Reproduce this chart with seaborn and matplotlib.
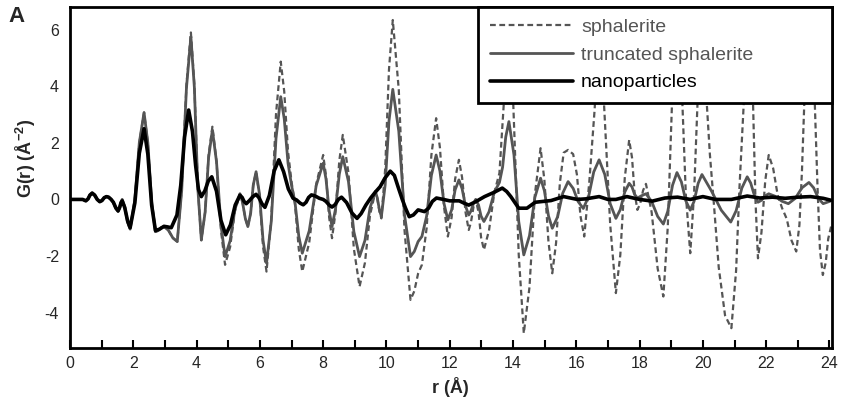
import matplotlib
matplotlib.use("Agg")
import matplotlib.pyplot as plt
import seaborn as sns
import pandas as pd
from matplotlib.ticker import MultipleLocator

# ---------------- data ----------------
sph_r = [0.0, 0.4, 0.5, 0.57, 0.63, 0.7, 0.78, 0.86, 0.94, 1.01, 1.08, 1.15, 1.22, 1.3, 1.37,
         1.45, 1.52, 1.57, 1.61, 1.65, 1.73, 1.82, 1.9, 2.05, 2.19, 2.34, 2.46, 2.58, 2.7,
         2.79, 2.88, 2.97, 3.11, 3.25, 3.39, 3.53, 3.68, 3.82, 3.93, 4.04, 4.15, 4.27, 4.38,
         4.5, 4.63, 4.77, 4.9, 5.06, 5.21, 5.37, 5.45, 5.54, 5.62, 5.71, 5.79, 5.88, 5.99,
         6.1, 6.21, 6.36, 6.51, 6.66, 6.77, 6.89, 7.0, 7.11, 7.23, 7.34, 7.56, 7.78, 8.0,
         8.09, 8.19, 8.28, 8.39, 8.51, 8.62, 8.8, 8.97, 9.15, 9.32, 9.48, 9.65, 9.71, 9.78,
         9.84, 9.96, 10.08, 10.2, 10.39, 10.57, 10.76, 10.88, 11.0, 11.12, 11.27, 11.42,
         11.57, 11.69, 11.82, 11.94, 12.06, 12.17, 12.29, 12.39, 12.5, 12.6, 12.67, 12.75,
         12.82, 12.91, 12.99, 13.08, 13.24, 13.41, 13.57, 13.72, 13.87, 14.0, 14.18, 14.34,
         14.52, 14.69, 14.87, 14.99, 15.12, 15.24, 15.36, 15.48, 15.6, 15.74, 15.9, 16.02,
         16.13, 16.25, 16.41, 16.58, 16.72, 16.86, 17.07, 17.25, 17.39, 17.53, 17.67, 17.76,
         17.84, 17.93, 18.02, 18.11, 18.2, 18.38, 18.57, 18.75, 18.89, 19.04, 19.18, 19.32,
         19.46, 19.6, 19.72, 19.85, 19.97, 20.1, 20.22, 20.35, 20.5, 20.7, 20.9, 21.05,
         21.15, 21.3, 21.45, 21.58, 21.66, 21.74, 21.85, 21.97, 22.08, 22.22, 22.36, 22.5,
         22.65, 22.8, 22.95, 23.05, 23.13, 23.21, 23.37, 23.53, 23.62, 23.7, 23.79, 23.88,
         23.96, 24.05]
sph_g = [0.0, 0.0, -0.05, 0.02, 0.17, 0.24, 0.16, 0.0, -0.08, -0.04, 0.06, 0.1, 0.08, 0.0, -0.1,
         -0.33, -0.43, -0.3, -0.1, 0.0, -0.26, -0.8, -1.05, 0.0, 2.0, 3.07, 2.0, -0.09, -1.14,
         -1.1, -1.0, -0.96, -1.09, -1.36, -1.49, 0.36, 4.05, 5.9, 4.06, 0.39, -1.45, -0.45, 1.57,
         2.57, 1.35, -1.09, -2.31, -1.68, -0.43, 0.2, -0.09, -0.67, -0.96, -0.48, 0.5, 0.98, 0.1,
         -1.67, -2.55, -0.7, 3.02, 4.87, 3.81, 1.69, 0.63, -0.17, -1.76, -2.55, -1.52, 0.54, 1.57,
         0.84, -0.64, -1.37, -0.46, 1.37, 2.28, 0.94, -1.74, -3.08, -2.24, -0.56, 0.28, 0.04, -0.43,
         -0.67, 1.08, 4.59, 6.34, 3.87, -1.08, -3.55, -3.24, -2.62, -2.31, -1.01, 1.57,
         2.87, 1.83, -0.27, -1.31, -0.63, 0.72, 1.4, 0.78, -0.46, -1.08, -0.81, -0.27,
         0.0, -0.45, -1.34, -1.78, -1.1, 0.25, 0.93, 3.6, 6.4, 3.6, -1.95, -4.73,
         -3.1, 0.18, 1.81, 0.7, -1.5, -2.61, -1.54, 0.58, 1.65, 1.75, 1.6, 0.87,
         -0.58, -1.31, 0.62, 3.2, 6.4, 3.7, -0.88, -3.31, -1.96, 0.75, 2.1, 1.48,
         0.25, -0.37, -0.14, 0.32, 0.55, -0.45, -2.44, -3.43, -0.97, 3.94, 6.4, 4.33,
         0.18, -1.9, 0.18, 4.0, 6.4, 3.8, 1.6, -0.2, -2.4, -4.1, -4.55, -2.5,
         0.3, 3.6, 6.3, 3.6, 0.0, -2.08, -1.17, 0.66, 1.57, 1.1, 0.17, -0.3,
         -0.69, -1.45, -1.84, -0.9, 1.0, 3.6, 6.3, 3.6, 0.5, -1.8, -2.67, -2.24,
         -1.39, -0.96]

tru_r = [0.0, 0.4, 0.5, 0.57, 0.63, 0.7, 0.78, 0.86, 0.94, 1.01, 1.08, 1.15, 1.22, 1.3, 1.37,
         1.45, 1.52, 1.57, 1.61, 1.65, 1.73, 1.82, 1.9, 2.05, 2.19, 2.34, 2.46, 2.58, 2.7,
         2.79, 2.88, 2.97, 3.11, 3.25, 3.39, 3.53, 3.68, 3.82, 3.93, 4.04, 4.15, 4.27, 4.38,
         4.5, 4.63, 4.77, 4.9, 5.06, 5.21, 5.37, 5.45, 5.54, 5.62, 5.71, 5.79, 5.88, 5.99,
         6.1, 6.21, 6.36, 6.51, 6.66, 6.77, 6.89, 7.0, 7.11, 7.23, 7.34, 7.56, 7.78, 8.0,
         8.09, 8.19, 8.28, 8.39, 8.51, 8.62, 8.8, 8.97, 9.15, 9.32, 9.48, 9.65, 9.71, 9.78,
         9.84, 9.96, 10.08, 10.2, 10.39, 10.57, 10.76, 10.88, 11.0, 11.12, 11.27, 11.42,
         11.57, 11.69, 11.82, 11.94, 12.06, 12.17, 12.29, 12.39, 12.5, 12.6, 12.67, 12.75,
         12.82, 12.91, 12.99, 13.08, 13.24, 13.41, 13.57, 13.67, 13.77, 13.87, 14.03, 14.18,
         14.34, 14.52, 14.69, 14.87, 14.99, 15.12, 15.24, 15.41, 15.57, 15.74, 15.9, 16.06,
         16.22, 16.39, 16.55, 16.72, 16.9, 17.07, 17.25, 17.39, 17.53, 17.67, 17.76, 17.84,
         17.93, 18.06, 18.2, 18.38, 18.57, 18.75, 18.89, 19.04, 19.18, 19.32, 19.46, 19.6,
         19.72, 19.85, 19.97, 20.27, 20.58, 20.88, 21.05, 21.23, 21.4, 21.51, 21.63, 21.74,
         21.85, 21.97, 22.08, 22.29, 22.49, 22.7, 22.92, 23.13, 23.35, 23.5, 23.65, 23.8,
         24.05]
tru_g = [0.0, 0.0, -0.05, 0.02, 0.17, 0.24, 0.16, 0.0, -0.08, -0.04, 0.06, 0.1, 0.08, 0.0, -0.1,
         -0.33, -0.43, -0.3, -0.1, 0.0, -0.26, -0.8, -1.05, 0.0, 2.0, 3.07, 2.0, -0.09, -1.14,
         -1.1, -1.0, -0.96, -1.09, -1.36, -1.49, 0.32, 3.94, 5.75, 3.96, 0.37, -1.42, -0.45, 1.48,
         2.45, 1.33, -0.9, -2.02, -1.46, -0.36, 0.2, -0.09, -0.67, -0.96, -0.48, 0.5, 0.98, 0.17,
         -1.44, -2.25, -0.78, 2.16, 3.63, 2.85, 1.28, 0.5, -0.1, -1.3, -1.9, -1.11, 0.49, 1.28,
         0.72, -0.4, -0.96, -0.34, 0.89, 1.51, 0.63, -1.14, -2.02, -1.45, -0.3, 0.28, 0.06, -0.38,
         -0.6, 0.52, 2.77, 3.89, 2.41, -0.54, -2.02, -1.84, -1.49, -1.31, -0.59, 0.85,
         1.57, 1.0, -0.15, -0.72, -0.37, 0.34, 0.69, 0.38, -0.24, -0.55, -0.41, -0.14,
         0.0, -0.2, -0.59, -0.78, -0.44, 0.26, 0.6, 1.14, 2.21, 2.75, 1.57, -0.78,
         -1.96, -1.28, 0.07, 0.75, 0.31, -0.58, -1.02, -0.61, 0.22, 0.63, 0.39, -0.08,
         -0.32, 0.11, 0.97, 1.4, 0.88, -0.15, -0.67, -0.36, 0.26, 0.57, 0.44, 0.18,
         0.05, 0.13, 0.2, -0.07, -0.6, -0.87, -0.42, 0.5, 0.95, 0.62, -0.05, -0.38,
         -0.07, 0.57, 0.88, 0.3, -0.38, -0.8, -0.4, 0.4, 0.8, 0.58, 0.13, -0.1,
         -0.03, 0.13, 0.2, 0.11, -0.06, -0.15, 0.04, 0.41, 0.6, 0.41, 0.04, -0.15,
         -0.05]

nano_r = [0.0, 0.4, 0.5, 0.57, 0.63, 0.7, 0.78, 0.86, 0.94, 1.01, 1.08, 1.15, 1.22, 1.3, 1.37,
          1.45, 1.52, 1.57, 1.61, 1.65, 1.73, 1.82, 1.9, 2.05, 2.19, 2.34, 2.46, 2.58, 2.7,
          2.83, 2.97, 3.08, 3.2, 3.38, 3.5, 3.62, 3.75, 3.87, 3.97, 4.06, 4.15, 4.26, 4.37,
          4.48, 4.63, 4.77, 4.92, 5.07, 5.22, 5.37, 5.44, 5.5, 5.57, 5.67, 5.78, 5.88, 5.97,
          6.07, 6.16, 6.3, 6.45, 6.6, 6.75, 6.9, 7.05, 7.16, 7.27, 7.37, 7.46, 7.54, 7.63,
          7.75, 7.88, 8.0, 8.09, 8.19, 8.28, 8.38, 8.48, 8.58, 8.74, 8.91, 9.07, 9.2, 9.35,
          9.5, 9.65, 9.8, 9.95, 10.12, 10.25, 10.38, 10.5, 10.6, 10.72, 10.85, 11.0, 11.1,
          11.2, 11.33, 11.45, 11.58, 11.8, 12.0, 12.3, 12.45, 12.6, 12.82, 13.1, 13.4, 13.66,
          13.8, 13.93, 14.05, 14.18, 14.44, 14.7, 15.2, 15.6, 16.03, 16.3, 16.72, 17.0, 17.25,
          17.6, 18.0, 18.4, 18.8, 19.2, 19.6, 20.0, 20.4, 20.9, 21.4, 21.8, 22.2, 22.6, 23.0,
          23.4, 23.8, 24.05]
nano_g = [0.0, 0.0, -0.05, 0.02, 0.15, 0.22, 0.15, 0.0, -0.08, -0.04, 0.06, 0.1, 0.08, 0.0, -0.1,
          -0.3, -0.4, -0.28, -0.12, -0.05, -0.29, -0.76, -1.0, -0.12, 1.63, 2.5, 1.6, -0.2, -1.1,
          -1.05, -0.95, -0.97, -1.0, -0.55, 0.5, 2.2, 3.16, 2.4, 1.2, 0.35, 0.1, 0.3, 0.65,
          0.8, 0.29, -0.74, -1.25, -0.9, -0.2, 0.15, 0.07, -0.07, -0.15, -0.04, 0.1, 0.18, 0.06,
          -0.16, -0.28, 0.14, 1.0, 1.4, 0.98, 0.37, 0.04, -0.02, -0.13, -0.19, -0.1, 0.07, 0.16,
          0.12, 0.04, 0.0, -0.07, -0.2, -0.27, -0.18, 0.0, 0.08, -0.11, -0.48, -0.67, -0.5, -0.2,
          0.05, 0.26, 0.45, 0.75, 1.0, 0.85, 0.4, 0.0, -0.3, -0.61, -0.55, -0.37, -0.4,
          -0.43, -0.31, -0.07, 0.05, 0.0, -0.05, -0.05, -0.13, -0.2, -0.08, 0.1, 0.25, 0.4,
          0.28, 0.1, -0.1, -0.31, -0.31, -0.1, -0.04, 0.1, 0.0, 0.02, 0.1, 0.0, 0.0,
          0.1, 0.0, -0.06, 0.05, 0.08, 0.0, 0.1, 0.0, 0.0, 0.12, 0.05, 0.08, 0.04, 0.08,
          0.1, 0.04, -0.03]

labels = ["sphalerite", "truncated sphalerite", "nanoparticles"]
x_ticks = list(range(0, 25, 2))
y_ticks = [-4, -2, 0, 2, 4, 6]

# ---------------- style ----------------
sns.set_style("white")
plt.rcParams["font.family"] = ["Liberation Sans", "DejaVu Sans"]
plt.rcParams["mathtext.fontset"] = "custom"
plt.rcParams["mathtext.rm"] = "Liberation Sans:bold"
plt.rcParams["mathtext.bf"] = "Liberation Sans:bold"

fig = plt.figure(figsize=(8.46, 4.13), dpi=100)
ax = fig.add_axes([70 / 846, 1 - 348 / 413, (831.7 - 70) / 846, (348 - 7) / 413])

gray = "#555555"
df_s = pd.DataFrame({"r": sph_r, "G": sph_g})
df_t = pd.DataFrame({"r": tru_r, "G": tru_g})
df_n = pd.DataFrame({"r": nano_r, "G": nano_g})

sns.lineplot(data=df_s, x="r", y="G", ax=ax, color=gray, lw=1.6, estimator=None,
             label=labels[0], zorder=2)
ax.lines[-1].set_dashes((2.6, 1.6))
sns.lineplot(data=df_t, x="r", y="G", ax=ax, color=gray, lw=2.0, estimator=None,
             label=labels[1], zorder=3)
sns.lineplot(data=df_n, x="r", y="G", ax=ax, color="black", lw=2.6, estimator=None,
             label=labels[2], zorder=4)
for ln in ax.lines:
    ln.set_solid_joinstyle("round")
    ln.set_dash_joinstyle("round")

ax.set_xlim(0, 24.07)
ax.set_ylim(-5.25, 6.8)
ax.set_xticks(x_ticks)
ax.set_xticklabels([str(t) for t in x_ticks])
ax.xaxis.set_minor_locator(MultipleLocator(1))
ax.set_yticks(y_ticks)
ax.set_yticklabels([str(t) for t in y_ticks])
ax.tick_params(axis="x", which="both", direction="in", length=6, width=1.5,
               bottom=True, top=False, labelsize=11.5, pad=6, color="black")
ax.tick_params(axis="y", which="both", length=0, labelsize=11.5, pad=8, left=False)

for sp in ax.spines.values():
    sp.set_visible(True)
    sp.set_color("black")
    sp.set_linewidth(2.0)

ax.set_xlabel("r (Å)", fontsize=13, fontweight="bold", labelpad=4)
ax.set_ylabel(r"G(r) (Å$^{-2}$)", fontsize=13, fontweight="bold")
ax.yaxis.set_label_coords(-0.042, 0.557)
fig.text(8 / 846, 1 - 6 / 413, "A", fontsize=16, fontweight="bold", va="top", ha="left")

x0 = (478 - 70) / (831.7 - 70)
leg = ax.legend(loc="upper left", bbox_to_anchor=(x0, 0, 1 - x0, 1.0),
                mode="expand", borderaxespad=0, fancybox=False, framealpha=1,
                edgecolor="black", fontsize=14, handlelength=4.3, handletextpad=0.4,
                labelspacing=0.51, borderpad=0.6)
leg.get_frame().set_linewidth(2.0)
leg.set_zorder(10)
for txt, c in zip(leg.get_texts(), [gray, gray, "black"]):
    txt.set_color(c)
hl = leg.get_lines()
hl[0].set_dashes((2.6, 1.6))
hl[0].set_linewidth(1.6)

fig.savefig("out.png", dpi=100)
